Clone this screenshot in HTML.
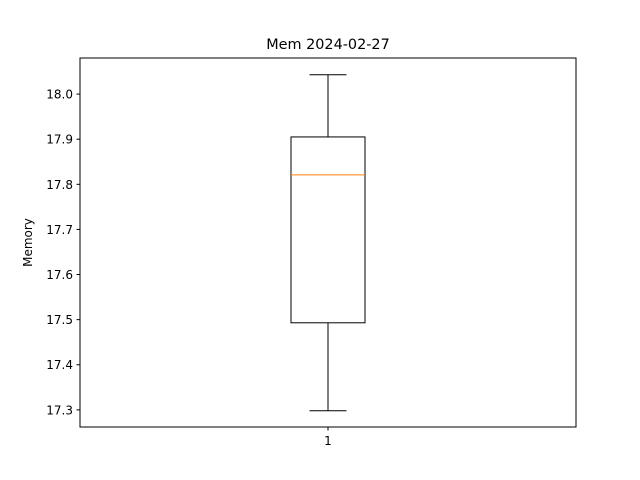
<!DOCTYPE html>
<html><head><meta charset="utf-8"><style>
body{margin:0;background:#fff;}
svg{display:block;font-family:"DejaVu Sans","Liberation Sans",sans-serif;}
</style></head><body>
<svg id="chart" width="640" height="480">
<rect width="640" height="480" fill="#fff"/>
</svg>
<script>
const categories = ["1"];
const whiskerLow = [17.298];
const q1Values = [17.493];
const medianValues = [17.821];
const q3Values = [17.905];
const whiskerHigh = [18.043];
const yTicks = [17.3, 17.4, 17.5, 17.6, 17.7, 17.8, 17.9, 18.0];
const yTickLabels = ["17.3", "17.4", "17.5", "17.6", "17.7", "17.8", "17.9", "18.0"];

const L = 80, R = 576, T = 58, B = 427;
const yMin = 17.262, yMax = 18.080;
const svg = document.getElementById('chart');
const NS = 'http://www.w3.org/2000/svg';
function y(v){ return B - (v - yMin) / (yMax - yMin) * (B - T); }
function x(i){ return L + (i + 0.5) / categories.length * (R - L); }
function mk(tag, attrs, parent){
  const e = document.createElementNS(NS, tag);
  for (const k in attrs) e.setAttribute(k, attrs[k]);
  (parent || svg).appendChild(e);
  return e;
}
const halfBox = 37, halfCap = 18.5;
categories.forEach((c, i) => {
  const cx = x(i);
  const g = mk('g', {});
  
  
  mk('line', {x1: cx, x2: cx, y1: y(q3Values[i]), y2: y(whiskerHigh[i]), stroke: '#000'}, g);
  mk('line', {x1: cx, x2: cx, y1: y(q1Values[i]), y2: y(whiskerLow[i]), stroke: '#000'}, g);
  mk('line', {x1: cx - halfCap, x2: cx + halfCap, y1: y(whiskerHigh[i]), y2: y(whiskerHigh[i]), stroke: '#000'}, g);
  mk('line', {x1: cx - halfCap, x2: cx + halfCap, y1: y(whiskerLow[i]), y2: y(whiskerLow[i]), stroke: '#000'}, g);
  mk('rect', {x: cx - halfBox, y: y(q3Values[i]), width: 2 * halfBox, height: y(q1Values[i]) - y(q3Values[i]), fill: 'none', stroke: '#000'}, g);
  const m = mk('line', {x1: cx - halfBox, x2: cx + halfBox, y1: y(medianValues[i]), y2: y(medianValues[i]), stroke: '#ff7f0e'}, g);
  
  
  mk('line', {x1: cx, x2: cx, y1: B, y2: B + 3.5, stroke: '#000'});
  const t = mk('text', {x: cx, y: B + 18, 'text-anchor': 'middle', 'font-size': 12});
  t.textContent = c;
  
  
});
yTicks.forEach((v, i) => {
  mk('line', {x1: L - 3.5, x2: L, y1: y(v), y2: y(v), stroke: '#000'});
  const t = mk('text', {x: L - 7, y: y(v) + 4.5, 'text-anchor': 'end', 'font-size': 12});
  t.textContent = yTickLabels[i];
  
  
});
const frame = mk('rect', {x: L, y: T, width: R - L, height: B - T, fill: 'none', stroke: '#000'});


const title = mk('text', {x: (L + R) / 2, y: 49, 'text-anchor': 'middle', 'font-size': 14.4});
title.textContent = 'Mem 2024-02-27';


const yl = mk('text', {x: 32, y: (T + B) / 2, 'text-anchor': 'middle', 'font-size': 12, transform: 'rotate(-90 32 ' + ((T + B) / 2) + ')'});
yl.textContent = 'Memory';


</script>
</body></html>
